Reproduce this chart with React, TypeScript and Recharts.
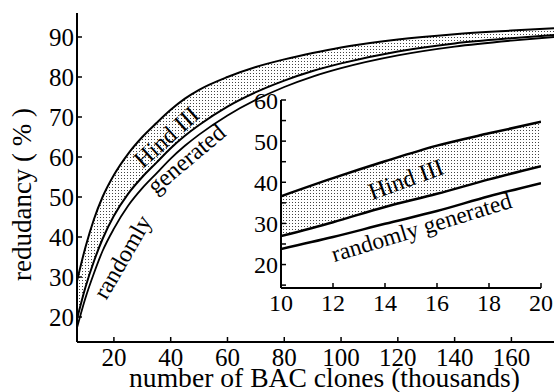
import React from 'react';
import { ComposedChart, Line, Area, XAxis, YAxis, ReferenceDot, CartesianGrid, Label } from 'recharts';

// main chart data (thousands of BAC clones vs redundancy %)
const clones = [7, 10, 13, 16, 20, 25, 30, 35, 40, 45, 50, 60, 70, 80, 90, 100, 120, 140, 160, 175];
const hindUpper = [29, 37.5, 44.5, 50, 55.5, 60.8, 65, 68.5, 71.8, 74.6, 76.8, 80, 82.5, 84.4, 86, 87.4, 89.4, 90.7, 91.6, 92.2];
const hindLower = [19.5, 27.5, 34, 39.5, 45.3, 50.8, 55, 58.6, 62.2, 65.3, 68, 72.6, 76.2, 79.1, 81.5, 83.4, 86.4, 88.4, 89.7, 90.5];
const randomGen = [17.3, 24.8, 31, 36.5, 42.1, 47.8, 52.2, 55.9, 59.6, 62.8, 65.6, 70.4, 74.3, 77.5, 80.1, 82.2, 85.4, 87.6, 89.1, 90];

// inset data
const insetClones = [10, 12, 14, 16, 18, 20];
const insetHindUpper = [36.6, 41.0, 45.1, 48.9, 51.9, 54.7];
const insetHindLower = [26.9, 30.3, 34.0, 37.2, 40.7, 43.9];
const insetRandom = [23.8, 26.7, 29.9, 33.0, 36.6, 39.8];

const mainXTicks = [20, 40, 60, 80, 100, 120, 140, 160];
const mainYTicks = [20, 30, 40, 50, 60, 70, 80, 90];
const insetXTicks = [10, 12, 14, 16, 18, 20];
const insetYTicks = [15, 20, 25, 30, 35, 40, 45, 50, 55, 60];

const FONT = '"Liberation Serif", "Times New Roman", serif';

const mainData = clones.map((x, i) => ({
  x,
  upper: hindUpper[i],
  lower: hindLower[i],
  rand: randomGen[i],
  band: [hindLower[i], hindUpper[i]],
}));

const insetData = insetClones.map((x, i) => ({
  x,
  upper: insetHindUpper[i],
  lower: insetHindLower[i],
  rand: insetRandom[i],
  band: [insetHindLower[i], insetHindUpper[i]],
}));

const curveText = (text: string, angle: number, size: number) => (props: any) => {
  const vb = props.viewBox || {};
  const cx = (vb.x || 0) + (vb.width || 0) / 2;
  const cy = (vb.y || 0) + (vb.height || 0) / 2;
  return (
    <text
      x={cx}
      y={cy}
      textAnchor="middle"
      dominantBaseline="central"
      transform={`rotate(${angle} ${cx} ${cy})`}
      style={{ fontFamily: FONT, fontSize: size, fontWeight: 400 }}
      fill="#000"
    >
      {text}
    </text>
  );
};

const xTick = (size: number) => (props: any) => {
  const { x, y, payload } = props;
  return (
    <text x={x} y={y} dy="0.71em" textAnchor="middle" fill="#000" style={{ fontFamily: FONT, fontSize: size, fontWeight: 400 }}>
      {payload.value}
    </text>
  );
};

const yTick = (size: number, every: number) => (props: any) => {
  const { x, y, payload } = props;
  if (payload.value % every !== 0) return <g />;
  return (
    <text x={x} y={y} dy="0.36em" textAnchor="end" fill="#000" style={{ fontFamily: FONT, fontSize: size, fontWeight: 400 }}>
      {payload.value}
    </text>
  );
};

const axisLineStyle = { stroke: '#000', strokeWidth: 2 };
const tickLineStyle = { stroke: '#000', strokeWidth: 1.5 };
const noLabel = () => <g />;

const DotPattern = ({ id }: { id: string }) => (
  <defs>
    <pattern id={id} width={3} height={3} patternUnits="userSpaceOnUse">
      <rect width={3} height={3} fill="#fff" />
      <rect x={1} y={1} width={1} height={1} fill="#444" />
    </pattern>
  </defs>
);

export default function App() {
  return (
    <div style={{ position: 'absolute', left: 0, top: 0, width: 556, height: 392, background: '#fff' }}>
      <div style={{ position: 'absolute', left: 0, top: 0 }}>
        <ComposedChart width={556} height={392} data={mainData} margin={{ top: 13, right: 2, bottom: 0, left: 0 }}>
          <DotPattern id="dotsMain" />
          <XAxis
            type="number"
            dataKey="x"
            domain={[7, 175]}
            ticks={mainXTicks}
            allowDataOverflow
            height={50}
            axisLine={axisLineStyle}
            tickLine={tickLineStyle}
            tickSize={-5}
            tickMargin={11}
            tick={xTick(25)}
            interval={0}
          >
            <Label
              content={(p: any) => {
                const vb = p.viewBox;
                return (
                  <text x={vb.x + vb.width / 2 + 9} y={vb.y + 45} textAnchor="middle" fill="#000" style={{ fontFamily: FONT, fontSize: 27.6, fontWeight: 400 }}>
                    number of BAC clones (thousands)
                  </text>
                );
              }}
            />
          </XAxis>
          <XAxis
            xAxisId="top"
            orientation="top"
            type="number"
            dataKey="x"
            domain={[7, 175]}
            ticks={mainXTicks}
            allowDataOverflow
            height={0}
            axisLine={axisLineStyle}
            tickLine={tickLineStyle}
            tickSize={-5}
            tick={noLabel}
            interval={0}
          />
          <YAxis
            type="number"
            domain={[13.75, 96]}
            ticks={mainYTicks}
            allowDataOverflow
            width={77}
            axisLine={axisLineStyle}
            tickLine={tickLineStyle}
            tickSize={-5}
            tickMargin={8}
            tick={yTick(25, 10)}
            interval={0}
          >
            <Label
              content={(p: any) => {
                const vb = p.viewBox;
                const cx = vb.x + 31;
                const cy = vb.y + vb.height / 2 + 17;
                return (
                  <text x={cx} y={cy} textAnchor="middle" transform={`rotate(-90 ${cx} ${cy})`} fill="#000" style={{ fontFamily: FONT, fontSize: 27, fontWeight: 400 }}>
                    redudancy ( % )
                  </text>
                );
              }}
            />
          </YAxis>
          <YAxis
            yAxisId="right"
            orientation="right"
            type="number"
            domain={[13.75, 96]}
            ticks={mainYTicks}
            allowDataOverflow
            width={0}
            axisLine={axisLineStyle}
            tickLine={tickLineStyle}
            tickSize={-5}
            tick={noLabel}
            interval={0}
          />
          <Area type="monotone" dataKey="band" fill="url(#dotsMain)" fillOpacity={1} stroke="none" isAnimationActive={false} />
          <Line type="monotone" dataKey="upper" stroke="#000" strokeWidth={2} dot={false} isAnimationActive={false} />
          <Line type="monotone" dataKey="lower" stroke="#000" strokeWidth={2} dot={false} isAnimationActive={false} />
          <Line type="monotone" dataKey="rand" stroke="#000" strokeWidth={1.8} dot={false} isAnimationActive={false} />
          <ReferenceDot x={38.5} y={65} r={1} fill="none" stroke="none" label={curveText('Hind III', -42, 24)} />
          <ReferenceDot x={23} y={35} r={1} fill="none" stroke="none" label={curveText('randomly', -60, 24)} />
          <ReferenceDot x={45.5} y={59.5} r={1} fill="none" stroke="none" label={curveText('generated', -40, 24)} />
        </ComposedChart>
      </div>
      <div style={{ position: 'absolute', left: 0, top: 0 }}>
        <ComposedChart width={556} height={392} data={insetData} margin={{ top: 100, right: 15, bottom: 0, left: 0 }}>
          <DotPattern id="dotsInset" />
          <CartesianGrid horizontal={false} vertical={false} fill="#fff" fillOpacity={1} />
          <XAxis
            type="number"
            dataKey="x"
            domain={[10, 20]}
            ticks={insetXTicks}
            allowDataOverflow
            height={104}
            axisLine={axisLineStyle}
            tickLine={tickLineStyle}
            tickSize={-5}
            tickMargin={11}
            tick={xTick(24)}
            interval={0}
          />
          <XAxis
            xAxisId="top"
            orientation="top"
            type="number"
            dataKey="x"
            domain={[10, 20]}
            ticks={insetXTicks}
            allowDataOverflow
            height={0}
            axisLine={axisLineStyle}
            tickLine={tickLineStyle}
            tickSize={-5}
            tick={noLabel}
            interval={0}
          />
          <YAxis
            type="number"
            domain={[14.3, 60]}
            ticks={insetYTicks}
            allowDataOverflow
            width={281}
            axisLine={axisLineStyle}
            tickLine={tickLineStyle}
            tickSize={-5}
            tickMargin={8}
            tick={yTick(24, 10)}
            interval={0}
          />
          <YAxis
            yAxisId="right"
            orientation="right"
            type="number"
            domain={[14.3, 60]}
            ticks={insetYTicks}
            allowDataOverflow
            width={0}
            axisLine={axisLineStyle}
            tickLine={tickLineStyle}
            tickSize={-5}
            tick={noLabel}
            interval={0}
          />
          <Area type="monotone" dataKey="band" fill="url(#dotsInset)" fillOpacity={1} stroke="none" isAnimationActive={false} />
          <Line type="monotone" dataKey="upper" stroke="#000" strokeWidth={2.5} dot={false} isAnimationActive={false} />
          <Line type="monotone" dataKey="lower" stroke="#000" strokeWidth={2.5} dot={false} isAnimationActive={false} />
          <Line type="monotone" dataKey="rand" stroke="#000" strokeWidth={2.5} dot={false} isAnimationActive={false} />
          <ReferenceDot x={14.8} y={40.7} r={1} fill="none" stroke="none" label={curveText('Hind III', -20, 24)} />
          <ReferenceDot x={15.4} y={29.1} r={1} fill="none" stroke="none" label={curveText('randomly generated', -17, 23.5)} />
        </ComposedChart>
      </div>
    </div>
  );
}
